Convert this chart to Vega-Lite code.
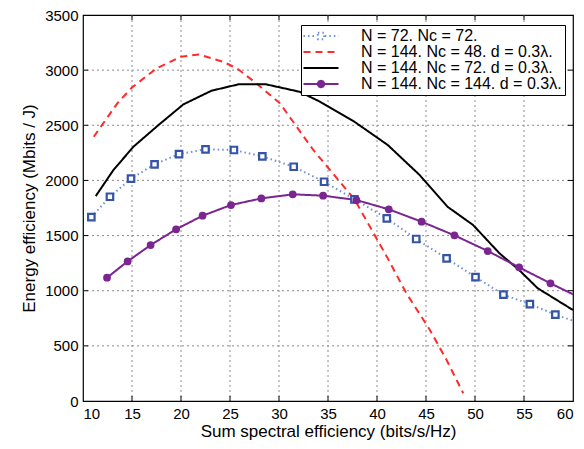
{
  "$schema": "https://vega.github.io/schema/vega-lite/v6.json",
  "width": 490,
  "height": 386,
  "autosize": {"type": "none"},
  "padding": {"left": 83, "top": 15, "right": 11, "bottom": 48},
  "background": "white",
  "config": {
    "font": "Liberation Sans",
    "view": {"stroke": "#000", "strokeWidth": 1.2},
    "axis": {"labelFont": "Liberation Sans", "titleFont": "Liberation Sans", "labelColor": "#000", "titleColor": "#000", "titleFontWeight": "normal", "labelFontSize": 15, "titleFontSize": 17, "domain": false, "grid": false, "ticks": false}
  },
  "datasets": {
    "lines": [
      {"series": "A", "x": 10.85, "y": 1668}, {"series": "A", "x": 12.75, "y": 1852}, {"series": "A", "x": 14.9, "y": 2016}, {"series": "A", "x": 17.3, "y": 2146}, {"series": "A", "x": 19.8, "y": 2239}, {"series": "A", "x": 22.5, "y": 2282}, {"series": "A", "x": 25.4, "y": 2276}, {"series": "A", "x": 28.3, "y": 2218}, {"series": "A", "x": 31.5, "y": 2124}, {"series": "A", "x": 34.6, "y": 1988}, {"series": "A", "x": 37.7, "y": 1829}, {"series": "A", "x": 41.0, "y": 1656}, {"series": "A", "x": 44.0, "y": 1469}, {"series": "A", "x": 47.1, "y": 1293}, {"series": "A", "x": 50.05, "y": 1124}, {"series": "A", "x": 52.9, "y": 964}, {"series": "A", "x": 55.6, "y": 879}, {"series": "A", "x": 58.2, "y": 783}, {"series": "A", "x": 60, "y": 728},
      {"series": "B", "x": 11.1, "y": 2396}, {"series": "B", "x": 13.5, "y": 2699}, {"series": "B", "x": 15.0, "y": 2843}, {"series": "B", "x": 17.5, "y": 3016}, {"series": "B", "x": 20.0, "y": 3122}, {"series": "B", "x": 21.8, "y": 3142}, {"series": "B", "x": 24.3, "y": 3076}, {"series": "B", "x": 25.7, "y": 3016}, {"series": "B", "x": 27.7, "y": 2880}, {"series": "B", "x": 30.1, "y": 2699}, {"series": "B", "x": 33.5, "y": 2276}, {"series": "B", "x": 37.7, "y": 1829}, {"series": "B", "x": 41.0, "y": 1309}, {"series": "B", "x": 43.0, "y": 976}, {"series": "B", "x": 45.4, "y": 644}, {"series": "B", "x": 47.1, "y": 372}, {"series": "B", "x": 48.8, "y": 70},
      {"series": "C", "x": 11.3, "y": 1858}, {"series": "C", "x": 13.1, "y": 2094}, {"series": "C", "x": 15.15, "y": 2306}, {"series": "C", "x": 17.7, "y": 2502}, {"series": "C", "x": 20.25, "y": 2690}, {"series": "C", "x": 23.1, "y": 2813}, {"series": "C", "x": 25.85, "y": 2871}, {"series": "C", "x": 28.7, "y": 2871}, {"series": "C", "x": 32.1, "y": 2804}, {"series": "C", "x": 34.2, "y": 2713}, {"series": "C", "x": 37.7, "y": 2532}, {"series": "C", "x": 41.1, "y": 2321}, {"series": "C", "x": 44.35, "y": 2049}, {"series": "C", "x": 47.2, "y": 1761}, {"series": "C", "x": 49.8, "y": 1596}, {"series": "C", "x": 52.5, "y": 1339}, {"series": "C", "x": 54.5, "y": 1188}, {"series": "C", "x": 56.4, "y": 1022}, {"series": "C", "x": 60, "y": 825},
      {"series": "D", "x": 12.45, "y": 1118}, {"series": "D", "x": 14.55, "y": 1266}, {"series": "D", "x": 16.9, "y": 1414}, {"series": "D", "x": 19.5, "y": 1557}, {"series": "D", "x": 22.2, "y": 1680}, {"series": "D", "x": 25.1, "y": 1777}, {"series": "D", "x": 28.2, "y": 1837}, {"series": "D", "x": 31.4, "y": 1874}, {"series": "D", "x": 34.5, "y": 1862}, {"series": "D", "x": 37.9, "y": 1822}, {"series": "D", "x": 41.2, "y": 1738}, {"series": "D", "x": 44.55, "y": 1626}, {"series": "D", "x": 47.9, "y": 1502}, {"series": "D", "x": 51.3, "y": 1360}, {"series": "D", "x": 54.5, "y": 1212}, {"series": "D", "x": 57.7, "y": 1067}, {"series": "D", "x": 60, "y": 967}
    ],
    "squares": [
      {"x": 10.85, "y": 1668}, {"x": 12.75, "y": 1852}, {"x": 14.9, "y": 2016}, {"x": 17.3, "y": 2146}, {"x": 19.8, "y": 2239}, {"x": 22.5, "y": 2282}, {"x": 25.4, "y": 2276}, {"x": 28.3, "y": 2218}, {"x": 31.5, "y": 2124}, {"x": 34.6, "y": 1988}, {"x": 37.7, "y": 1829}, {"x": 41.0, "y": 1656}, {"x": 44.0, "y": 1469}, {"x": 47.1, "y": 1293}, {"x": 50.05, "y": 1124}, {"x": 52.9, "y": 964}, {"x": 55.6, "y": 879}, {"x": 58.2, "y": 783}
    ],
    "dots": [
      {"x": 12.45, "y": 1118}, {"x": 14.55, "y": 1266}, {"x": 16.9, "y": 1414}, {"x": 19.5, "y": 1557}, {"x": 22.2, "y": 1680}, {"x": 25.1, "y": 1777}, {"x": 28.2, "y": 1837}, {"x": 31.4, "y": 1874}, {"x": 34.5, "y": 1862}, {"x": 37.9, "y": 1822}, {"x": 41.2, "y": 1738}, {"x": 44.55, "y": 1626}, {"x": 47.9, "y": 1502}, {"x": 51.3, "y": 1360}, {"x": 54.5, "y": 1212}, {"x": 57.7, "y": 1067}
    ],
    "xgrid": [{"v": 15}, {"v": 20}, {"v": 25}, {"v": 30}, {"v": 35}, {"v": 40}, {"v": 45}, {"v": 50}, {"v": 55}],
    "ygrid": [{"v": 500}, {"v": 1000}, {"v": 1500}, {"v": 2000}, {"v": 2500}, {"v": 3000}]
  },
  "layer": [
    {
      "data": {"name": "xgrid"},
      "mark": {"type": "tick", "orient": "vertical", "size": 386, "thickness": 0, "filled": false, "color": "#8c8c8c", "strokeWidth": 1, "strokeDash": [1, 4], "opacity": 1},
      "encoding": {
        "x": {"field": "v", "type": "quantitative"},
        "y": {"datum": 1750, "type": "quantitative"}
      }
    },
    {
      "data": {"name": "ygrid"},
      "mark": {"type": "tick", "orient": "horizontal", "size": 490, "thickness": 0, "filled": false, "color": "#8c8c8c", "strokeWidth": 1, "strokeDash": [1, 4], "opacity": 1},
      "encoding": {
        "y": {"field": "v", "type": "quantitative"},
        "x": {"datum": 35, "type": "quantitative"}
      }
    },
    {
      "data": {"name": "lines"},
      "mark": {"type": "line", "strokeWidth": 2},
      "encoding": {
        "x": {"field": "x", "type": "quantitative", "scale": {"domain": [10, 60], "nice": false, "zero": false}, "axis": {"title": "Sum spectral efficiency (bits/s/Hz)", "values": [10, 15, 20, 25, 30, 35, 40, 45, 50, 55, 60], "labelPadding": 5, "titlePadding": 2}},
        "y": {"field": "y", "type": "quantitative", "scale": {"domain": [0, 3500], "nice": false}, "axis": {"title": "Energy efficiency (Mbits / J)", "format": "d", "values": [0, 500, 1000, 1500, 2000, 2500, 3000, 3500], "labelPadding": 5, "titlePadding": 6}},
        "color": {"field": "series", "type": "nominal", "scale": {"domain": ["A", "B", "C", "D"], "range": ["#6f8fd8", "#ff2a2a", "#000000", "#7a2590"]},
          "legend": {
            "orient": "none", "legendX": 218, "legendY": 10, "title": null,
            "strokeColor": "#000", "fillColor": "#fff", "padding": 3,
            "symbolType": "stroke", "symbolSize": 196, "symbolStrokeWidth": 2, "symbolOffset": 9,
            "labelFontSize": 16, "labelFont": "Liberation Sans", "labelColor": "#000", "labelLimit": 400, "rowPadding": 0, "labelOffset": 32,
            "labelExpr": "datum.value == 'A' ? 'N = 72. Nᴄ = 72.' : datum.value == 'B' ? 'N = 144. Nᴄ = 48. d = 0.3λ.' : datum.value == 'C' ? 'N = 144. Nᴄ = 72. d = 0.3λ.' : 'N = 144. Nᴄ = 144. d = 0.3λ.'",
            "encode": {"symbols": {"update": {
              "shape": {"signal": "datum.value == 'A' ? 'M-2.5,0H-0.55M0.55,0H2.5M-0.45,-0.45H0.45V0.45H-0.45Z' : datum.value == 'D' ? 'M-2.5,0H2.5M-0.45,0A0.45,0.45 0 1,0 0.45,0A0.45,0.45 0 1,0 -0.45,0Z' : 'M-2.5,0H2.5'"},
              "fill": {"signal": "datum.value == 'D' ? '#7a2590' : datum.value == 'A' ? '#fff' : 'transparent'"},
              "stroke": {"signal": "datum.value == 'A' ? '#3554a8' : datum.value == 'B' ? '#ff2a2a' : datum.value == 'C' ? '#000' : '#7a2590'"},
              "strokeDash": {"signal": "datum.value == 'A' ? [1.5, 3] : datum.value == 'B' ? [7, 5] : [1, 0]"}
            }}}
          }},
        "strokeDash": {"field": "series", "type": "nominal", "scale": {"domain": ["A", "B", "C", "D"], "range": [[1.5, 3], [7, 5], [1, 0], [1, 0]]}, "legend": null}
      }
    },
    {
      "data": {"name": "squares"},
      "mark": {"type": "point", "shape": "square", "filled": false, "stroke": "#3554a8", "strokeWidth": 2.2, "size": 42, "fill": "#fff", "fillOpacity": 1, "opacity": 1},
      "encoding": {
        "x": {"field": "x", "type": "quantitative"},
        "y": {"field": "y", "type": "quantitative"}
      }
    },
    {
      "data": {"name": "dots"},
      "mark": {"type": "circle", "color": "#7a2590", "size": 60, "opacity": 1},
      "encoding": {
        "x": {"field": "x", "type": "quantitative"},
        "y": {"field": "y", "type": "quantitative"}
      }
    },
    {
      "data": {"name": "xgrid"},
      "mark": {"type": "tick", "orient": "vertical", "size": 10, "thickness": 1, "color": "#000", "clip": true, "opacity": 1},
      "encoding": {
        "x": {"field": "v", "type": "quantitative"},
        "y": {"datum": 0, "type": "quantitative"}
      }
    },
    {
      "data": {"name": "xgrid"},
      "mark": {"type": "tick", "orient": "vertical", "size": 10, "thickness": 1, "color": "#000", "clip": true, "opacity": 1},
      "encoding": {
        "x": {"field": "v", "type": "quantitative"},
        "y": {"datum": 3500, "type": "quantitative"}
      }
    },
    {
      "data": {"name": "ygrid"},
      "mark": {"type": "tick", "orient": "horizontal", "size": 10, "thickness": 1, "color": "#000", "clip": true, "opacity": 1},
      "encoding": {
        "y": {"field": "v", "type": "quantitative"},
        "x": {"datum": 10, "type": "quantitative"}
      }
    },
    {
      "data": {"name": "ygrid"},
      "mark": {"type": "tick", "orient": "horizontal", "size": 10, "thickness": 1, "color": "#000", "clip": true, "opacity": 1},
      "encoding": {
        "y": {"field": "v", "type": "quantitative"},
        "x": {"datum": 60, "type": "quantitative"}
      }
    }
  ]
}
